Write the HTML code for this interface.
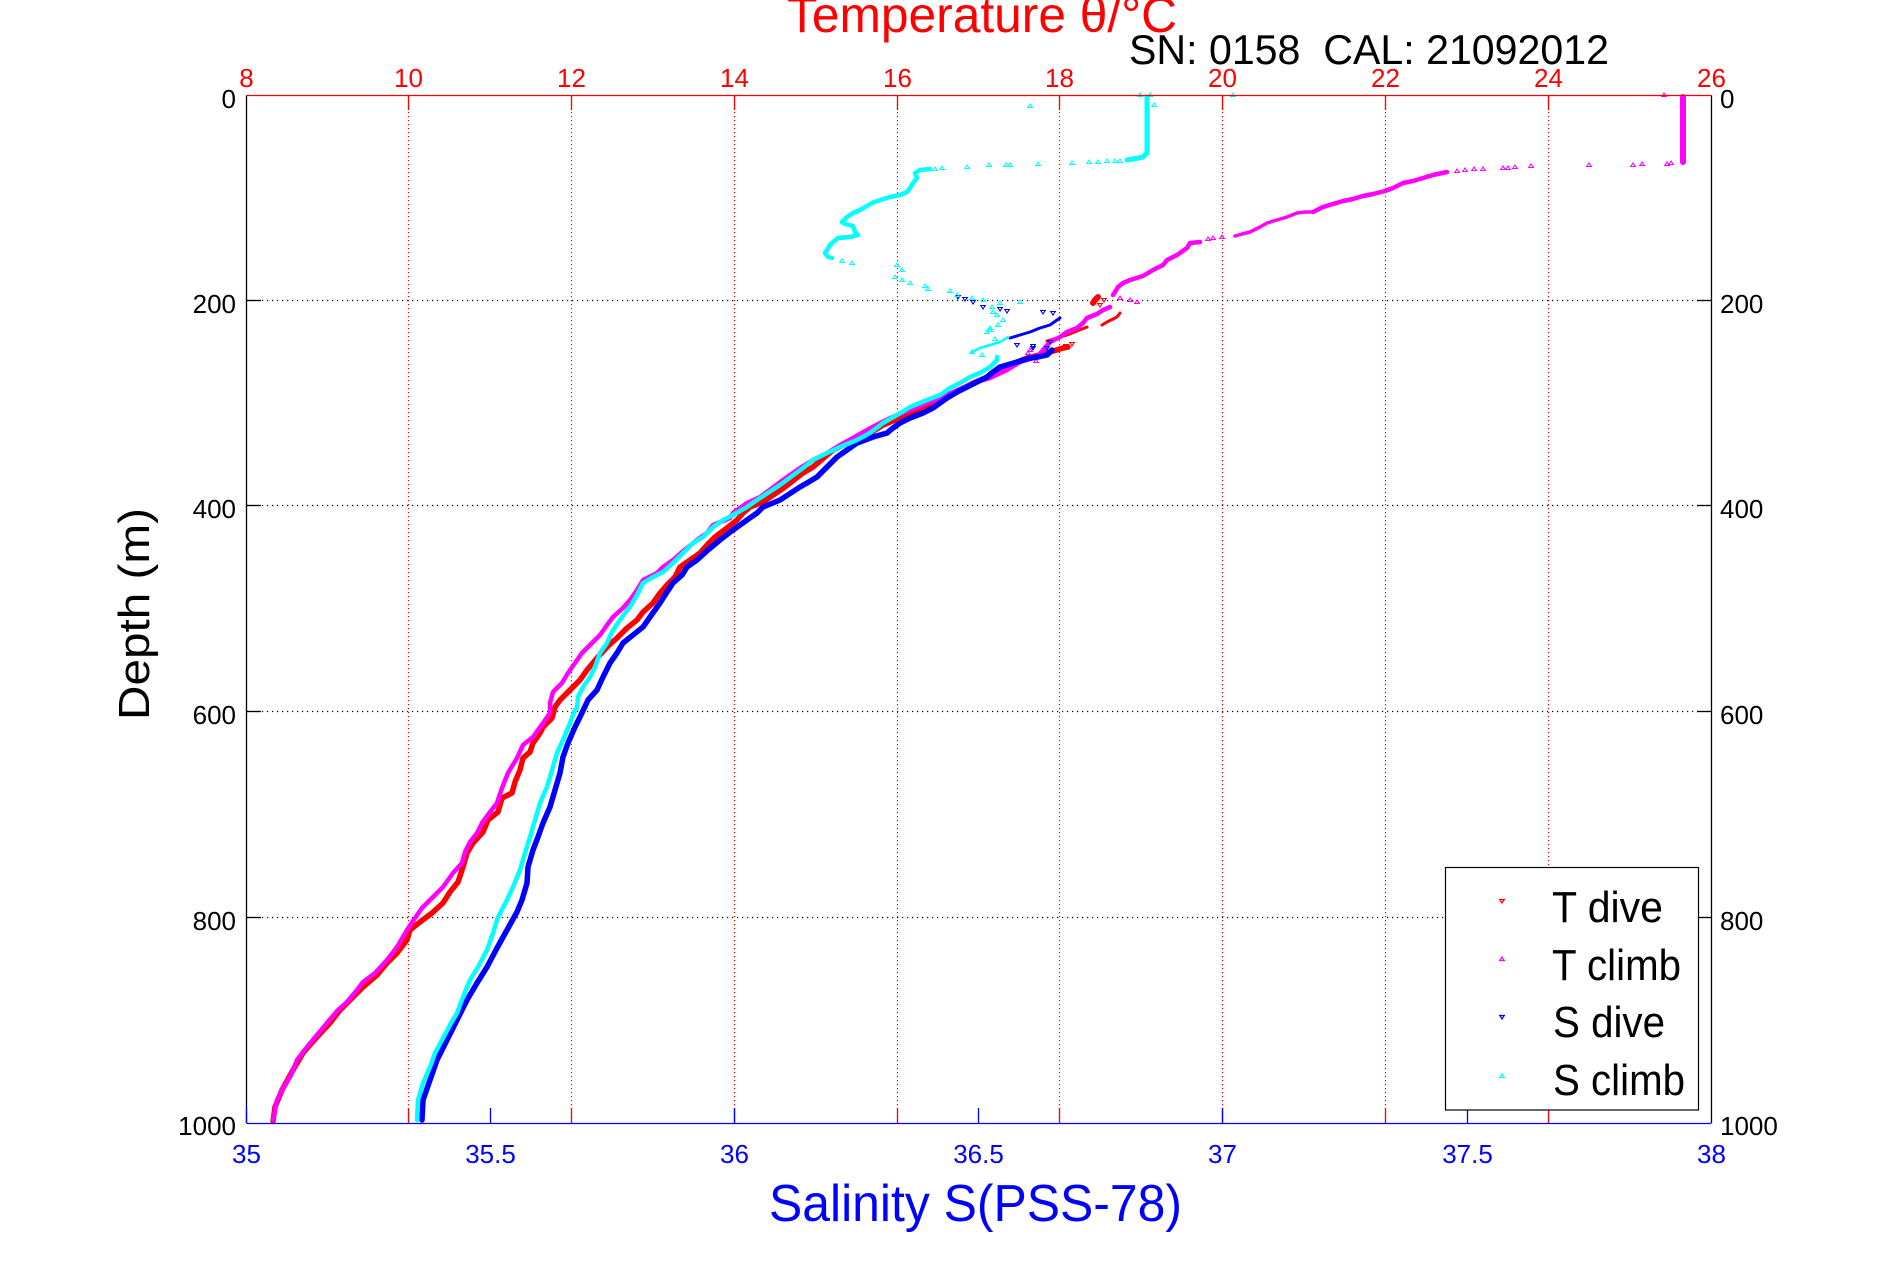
<!DOCTYPE html>
<html>
<head>
<meta charset="utf-8">
<style>
html,body{margin:0;padding:0;background:#fff;}
svg{display:block;}
text{font-family:"Liberation Sans",Arial,sans-serif;}
</style>
</head>
<body>
<svg width="1891" height="1262" viewBox="0 0 1891 1262" xmlns="http://www.w3.org/2000/svg">
<defs>
<marker id="mr" viewBox="-5 -5 10 10" markerWidth="10" markerHeight="10" refX="0" refY="0" markerUnits="userSpaceOnUse" overflow="visible"><path d="M-2.2,-1.5 L0,2 L2.2,-1.5 Z M-3,-1.5 H3" fill="none" stroke="#f00" stroke-width="1.1"/></marker>
<marker id="mb" viewBox="-5 -5 10 10" markerWidth="10" markerHeight="10" refX="0" refY="0" markerUnits="userSpaceOnUse" overflow="visible"><path d="M-2.2,-1.5 L0,2 L2.2,-1.5 Z M-3,-1.5 H3" fill="none" stroke="#00f" stroke-width="1.1"/></marker>
<marker id="mm" viewBox="-5 -5 10 10" markerWidth="10" markerHeight="10" refX="0" refY="0" markerUnits="userSpaceOnUse" overflow="visible"><path d="M-2.2,1.5 L0,-2 L2.2,1.5 Z M-3,1.5 H3" fill="none" stroke="#f0f" stroke-width="1.1"/></marker>
<marker id="mc" viewBox="-5 -5 10 10" markerWidth="10" markerHeight="10" refX="0" refY="0" markerUnits="userSpaceOnUse" overflow="visible"><path d="M-2.2,1.5 L0,-2 L2.2,1.5 Z M-3,1.5 H3" fill="none" stroke="#0ff" stroke-width="1.1"/></marker>
</defs>
<rect x="0" y="0" width="1891" height="1262" fill="#fff"/>

<!-- grid: red dotted vertical -->
<g stroke="#f00" stroke-width="1.2" stroke-dasharray="1.2 2.8" fill="none">
<line x1="408.5" y1="96" x2="408.5" y2="1123"/>
<line x1="571.5" y1="96" x2="571.5" y2="1123"/>
<line x1="734.5" y1="96" x2="734.5" y2="1123"/>
<line x1="897.5" y1="96" x2="897.5" y2="1123"/>
<line x1="1059.5" y1="96" x2="1059.5" y2="1123"/>
<line x1="1222.5" y1="96" x2="1222.5" y2="1123"/>
<line x1="1385.5" y1="96" x2="1385.5" y2="1123"/>
<line x1="1548.5" y1="96" x2="1548.5" y2="1123"/>
</g>
<!-- grid: black dotted horizontal -->
<g stroke="#000" stroke-width="1.2" stroke-dasharray="1.2 3.8" fill="none">
<line x1="247" y1="300.5" x2="1711" y2="300.5"/>
<line x1="247" y1="505.5" x2="1711" y2="505.5"/>
<line x1="247" y1="711.5" x2="1711" y2="711.5"/>
<line x1="247" y1="917.5" x2="1711" y2="917.5"/>
</g>

<!-- T dive (red) -->
<g fill="none" stroke="#f00" stroke-linejoin="round" stroke-linecap="round">
<polyline stroke-width="5.5" points="273,1121 275,1107 282,1090 293,1070 303,1053 317,1037 330,1023 340,1010 350,1000 363,987 377,975 387,963 397,953 407,940 410,930 420,922 432,913 443,903 450,892 458,882 463,867 467,853 473,843 483,832 488,820 498,812 502,798 512,793 515,782 520,770 523,758 530,752 533,743 540,733 543,727 552,718 555,707 560,700 570,690 580,680 587,670 597,658 607,647 617,638 627,628 637,620 643,612 653,603 660,593 667,585 675,577 680,567 690,560 700,553 707,545 715,537 727,528 737,520 743,513 750,507 763,502 785,487 803,473 813,467 833,450 850,442 867,435 883,425 900,418 920,410 940,402 957,392 973,383 993,375 1010,365 1027,358 1047,353 1063,348 1068,347"/>
<polyline stroke-width="3" points="1047,341 1057,338 1067,335 1077,331 1087,327"/>
<polyline stroke-width="3" points="1102,325 1107,322 1117,317 1120,313"/>
<polyline stroke-width="6" points="1093,303 1095,300 1098,297"/>
</g>
<polyline fill="none" stroke="none" marker-start="url(#mr)" marker-mid="url(#mr)" marker-end="url(#mr)" points="1058,350 1066,346 1072,344 1100,305 1104,300"/>

<!-- T climb (magenta) -->
<g fill="none" stroke="#f0f" stroke-linejoin="round" stroke-linecap="round">
<polyline stroke-width="6" points="1683,97 1683,162"/>
<polyline stroke-width="4.5" points="1447,172 1433,175 1423,178 1413,181 1403,183 1393,188 1385,191 1373,194 1363,196 1353,199 1343,201 1333,204 1323,207 1313,212"/>
<polyline stroke-width="3.5" points="1313,212 1305,212 1297,213 1287,217 1277,220 1267,223 1260,227 1250,232 1242,234 1235,236"/>
<polyline stroke-width="4.5" points="1200,242 1190,243 1187,248 1177,255 1167,260 1163,265 1153,270 1143,276 1130,280 1123,283 1118,287 1115,292 1113,295"/>
<polyline stroke-width="4.5" points="1110,307 1103,310 1097,314 1087,318 1083,323 1077,328 1067,332 1060,337 1050,342 1043,350 1037,357 1020,362 1007,370 990,378 973,383 953,392 940,398 927,403 910,410 897,415 880,423 867,430 853,438 840,445 827,453 813,460 800,468 783,480 760,497 747,503 733,513 730,518 713,525 707,533 697,540 682,552 673,560 663,567 657,573 643,580 637,590 630,600 623,608 613,617 607,625 600,635 590,645 582,653 575,663 568,673 562,683 553,692 550,703 550,713 543,723 533,737 523,745 517,758 508,773 502,788 497,803 490,812 482,823 477,833 470,842 465,852 462,863 453,873 443,887 432,898 422,908 415,918 407,930 397,947 387,960 375,973 363,982 357,990 347,1002 338,1010 327,1023 317,1035 307,1047 297,1060 290,1077 282,1090 277,1100 273,1120"/>
</g>
<polyline fill="none" stroke="none" marker-start="url(#mm)" marker-mid="url(#mm)" marker-end="url(#mm)" points="1664,95 1671,163 1667,164 1642,164 1633,165 1589,165 1531,166 1515,167 1508,168 1503,168 1483,169 1474,169 1465,170 1457,171 1222,237 1213,238 1208,239 1120,298 1130,300 1137,302 1028,353 1036,361 1030,350"/>

<!-- S dive (blue) -->
<g fill="none" stroke="#00f" stroke-linejoin="round" stroke-linecap="round">
<polyline stroke-width="5.5" points="422,1120 423,1100 430,1080 437,1060 447,1040 457,1020 467,1000 477,983 487,967 497,948 507,930 517,912 522,900 527,883 528,867 533,850 538,837 543,823 550,807 555,790 560,773 563,757 568,743 575,727 580,717 588,700 597,690 603,677 610,663 617,653 623,643 633,635 643,627 650,617 660,603 667,592 673,583 682,575 687,567 697,560 708,550 720,540 733,530 747,520 757,513 763,507 780,500 800,487 807,483 817,477 827,467 837,457 847,450 857,443 873,437 887,433 893,428 900,423 910,418 923,413 933,408 947,398 957,392 967,387 977,382 987,377 993,372 1000,367 1007,365 1017,362 1030,358 1038,357 1047,355 1052,350"/>
<polyline stroke-width="3" points="1010,338 1020,335 1030,332 1040,328 1050,325 1057,320 1060,318"/>
</g>
<polyline fill="none" stroke="none" marker-start="url(#mb)" marker-mid="url(#mb)" marker-end="url(#mb)" points="1047,348 1033,346 1017,345 1053,313 1043,312 1007,311 1000,309 983,307 973,302 965,299 958,297 1033,348 1050,342"/>

<!-- S climb (cyan) -->
<g fill="none" stroke="#0ff" stroke-linejoin="round" stroke-linecap="round">
<polyline stroke-width="5" points="1147,97 1147,153 1143,157 1133,159 1127,160"/>
<polyline stroke-width="4.5" points="930,169 920,170 915,173 917,178 913,183 910,188 907,192 900,195 890,197 880,200 872,203 867,206 860,210 853,213 847,217 842,222 845,224 853,226 855,232 858,235 850,237 838,238 833,242 830,245 827,250 825,253 828,257 832,258"/>
<polyline stroke-width="2.5" points="972,352 980,348 990,345 1000,342 1008,337"/>
<polyline stroke-width="4.5" points="997,357 997,360 990,367 980,373 970,377 960,383 950,388 940,395 927,400 910,407 897,415 883,423 870,433 857,440 840,447 827,453 813,460 803,468 780,485 757,500 747,507 733,515 723,520 713,527 703,537 693,543 683,553 673,563 663,572 653,577 643,583 637,595 630,607 622,617 613,630 607,643 600,653 595,667 590,677 583,687 578,697 577,708 575,710 570,723 563,740 557,753 552,770 547,787 540,803 535,820 530,837 525,853 520,870 513,887 507,900 498,917 493,933 487,950 478,967 470,980 463,997 457,1013 450,1025 442,1040 435,1053 430,1067 423,1083 418,1100 417,1120"/>
</g>
<polyline fill="none" stroke="none" marker-start="url(#mc)" marker-mid="url(#mc)" marker-end="url(#mc)" points="1140,95 1150,95 1154,105 1030,106 1233,95 1120,161 1115,161 1107,161 1098,162 1089,162 1072,163 1038,164 1010,165 1006,165 989,165 967,167 942,168 935,169 842,261 852,263 897,265 902,270 895,277 902,280 910,283 925,286 928,289 950,291 957,295 972,298 983,300 992,307 1000,303 1020,302 993,312 997,315 1003,320 998,325 990,328 987,332 972,352 982,355 990,330 995,339"/>

<!-- axes -->
<g fill="none" stroke-width="1.3">
<line x1="246.5" y1="95.5" x2="1711.5" y2="95.5" stroke="#f00"/>
<line x1="246.5" y1="1123.5" x2="1711.5" y2="1123.5" stroke="#00f"/>
<line x1="246.5" y1="95.5" x2="246.5" y2="1123" stroke="#000"/>
<line x1="1711.5" y1="95.5" x2="1711.5" y2="1123" stroke="#000"/>
</g>
<!-- ticks -->
<g stroke="#f00" stroke-width="1.3">
<line x1="408.5" y1="96" x2="408.5" y2="110"/><line x1="571.5" y1="96" x2="571.5" y2="110"/><line x1="734.5" y1="96" x2="734.5" y2="110"/><line x1="897.5" y1="96" x2="897.5" y2="110"/><line x1="1059.5" y1="96" x2="1059.5" y2="110"/><line x1="1222.5" y1="96" x2="1222.5" y2="110"/><line x1="1385.5" y1="96" x2="1385.5" y2="110"/><line x1="1548.5" y1="96" x2="1548.5" y2="110"/>
<line x1="408.5" y1="1123" x2="408.5" y2="1108"/><line x1="571.5" y1="1123" x2="571.5" y2="1108"/><line x1="734.5" y1="1123" x2="734.5" y2="1108"/><line x1="897.5" y1="1123" x2="897.5" y2="1108"/><line x1="1059.5" y1="1123" x2="1059.5" y2="1108"/><line x1="1222.5" y1="1123" x2="1222.5" y2="1108"/><line x1="1385.5" y1="1123" x2="1385.5" y2="1108"/><line x1="1548.5" y1="1123" x2="1548.5" y2="1108"/>
</g>
<g stroke="#00f" stroke-width="1.3">
<line x1="246.5" y1="1123" x2="246.5" y2="1108"/><line x1="490.5" y1="1123" x2="490.5" y2="1108"/><line x1="734.5" y1="1123" x2="734.5" y2="1108"/><line x1="978.5" y1="1123" x2="978.5" y2="1108"/><line x1="1222.5" y1="1123" x2="1222.5" y2="1108"/><line x1="1467.5" y1="1123" x2="1467.5" y2="1108"/>
</g>
<g stroke="#000" stroke-width="1.3">
<line x1="246.5" y1="300.5" x2="261" y2="300.5"/><line x1="246.5" y1="505.5" x2="261" y2="505.5"/><line x1="246.5" y1="711.5" x2="261" y2="711.5"/><line x1="246.5" y1="917.5" x2="261" y2="917.5"/>
<line x1="1697" y1="300.5" x2="1711.5" y2="300.5"/><line x1="1697" y1="505.5" x2="1711.5" y2="505.5"/><line x1="1697" y1="711.5" x2="1711.5" y2="711.5"/><line x1="1697" y1="917.5" x2="1711.5" y2="917.5"/>
</g>

<!-- tick labels -->
<g font-size="26" fill="#f00" text-anchor="middle">
<text x="246.5" y="87">8</text><text x="408.5" y="87">10</text><text x="571.5" y="87">12</text><text x="734.5" y="87">14</text><text x="897.5" y="87">16</text><text x="1059.5" y="87">18</text><text x="1222.5" y="87">20</text><text x="1385.5" y="87">22</text><text x="1548.5" y="87">24</text><text x="1711.5" y="87">26</text>
</g>
<g font-size="26" fill="#00f" text-anchor="middle">
<text x="246.5" y="1163">35</text><text x="490.5" y="1163">35.5</text><text x="734.5" y="1163">36</text><text x="978.5" y="1163">36.5</text><text x="1222.5" y="1163">37</text><text x="1467.5" y="1163">37.5</text><text x="1711.5" y="1163">38</text>
</g>
<g font-size="26" fill="#000" text-anchor="end">
<text x="236" y="108">0</text><text x="236" y="313">200</text><text x="236" y="518">400</text><text x="236" y="724">600</text><text x="236" y="930">800</text><text x="236" y="1135">1000</text>
</g>
<g font-size="26" fill="#000" text-anchor="start">
<text x="1720" y="108">0</text><text x="1720" y="313">200</text><text x="1720" y="518">400</text><text x="1720" y="724">600</text><text x="1720" y="930">800</text><text x="1720" y="1135">1000</text>
</g>

<!-- titles -->
<text x="787" y="32" font-size="50" fill="#f00" textLength="390" lengthAdjust="spacingAndGlyphs">Temperature θ/°C</text>
<text x="1129" y="64" font-size="42" fill="#000" textLength="480" lengthAdjust="spacingAndGlyphs" style="white-space:pre">SN: 0158  CAL: 21092012</text>
<text transform="translate(149,720) rotate(-90)" font-size="44" fill="#000" textLength="212" lengthAdjust="spacingAndGlyphs">Depth (m)</text>
<text x="769" y="1221" font-size="52" fill="#00f" textLength="413" lengthAdjust="spacingAndGlyphs">Salinity S(PSS-78)</text>

<!-- legend -->
<rect x="1445.5" y="867.5" width="253" height="242.5" fill="#fff" stroke="#000" stroke-width="1.2"/>
<g fill="none" stroke-width="1.2">
<path d="M1499.8,899.5 L1502,903 L1504.2,899.5 Z M1499,899.5 H1505" stroke="#f00"/>
<path d="M1499.8,960.5 L1502,957 L1504.2,960.5 Z M1499,960.5 H1505" stroke="#f0f"/>
<path d="M1499.8,1015.5 L1502,1019 L1504.2,1015.5 Z M1499,1015.5 H1505" stroke="#00f"/>
<path d="M1499.8,1077.5 L1502,1074 L1504.2,1077.5 Z M1499,1077.5 H1505" stroke="#0ff"/>
</g>
<g font-size="44" fill="#000">
<text x="1552" y="922" textLength="111" lengthAdjust="spacingAndGlyphs">T dive</text>
<text x="1552" y="980" textLength="129" lengthAdjust="spacingAndGlyphs">T climb</text>
<text x="1553" y="1037" textLength="112" lengthAdjust="spacingAndGlyphs">S dive</text>
<text x="1553" y="1095" textLength="132" lengthAdjust="spacingAndGlyphs">S climb</text>
</g>
</svg>
</body>
</html>
